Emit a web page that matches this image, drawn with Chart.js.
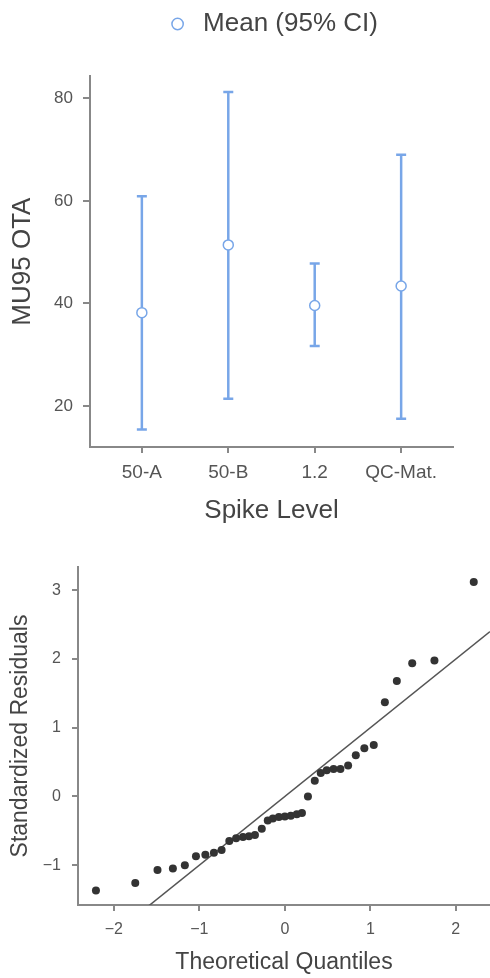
<!DOCTYPE html>
<html><head><meta charset="utf-8">
<script src="https://cdn.jsdelivr.net/npm/chart.js@4"></script>
<style>
html,body{margin:0;padding:0;background:#fff;overflow:hidden;}
#top{position:absolute;left:0;top:0;width:490px;height:540px;}
#bot{position:absolute;left:0;top:540px;width:490px;height:438px;}
</style></head><body>
<div id="top"><canvas id="c1"></canvas></div>
<div id="bot"><canvas id="c2"></canvas></div>
<script>
// ---- Top chart data ----
const categories = ['50-A', '50-B', '1.2', 'QC-Mat.'];
const meanValues = [38.2, 51.4, 39.6, 43.4];
const ciLower = [15.4, 21.4, 31.7, 17.5];
const ciUpper = [60.9, 81.2, 47.8, 69.0];
const topYTicks = [20, 40, 60, 80];

// ---- Q-Q plot data ----
const theoreticalQuantiles = [-2.21, -1.75, -1.49, -1.31, -1.17, -1.04, -0.93, -0.83, -0.74, -0.65,
  -0.57, -0.49, -0.42, -0.35, -0.27, -0.20, -0.14, -0.07, 0.00, 0.07,
  0.14, 0.20, 0.27, 0.35, 0.42, 0.49, 0.57, 0.65, 0.74, 0.83,
  0.93, 1.04, 1.17, 1.31, 1.49, 1.75, 2.21];
const standardizedResiduals = [-1.37, -1.26, -1.07, -1.05, -1.00, -0.87, -0.85, -0.82, -0.78, -0.65,
  -0.61, -0.59, -0.58, -0.56, -0.47, -0.35, -0.32, -0.30, -0.29, -0.28,
  -0.26, -0.24, 0.00, 0.23, 0.34, 0.38, 0.40, 0.40, 0.45, 0.60,
  0.70, 0.75, 1.37, 1.68, 1.94, 1.98, 3.12];
const qqXTicks = [-2, -1, 0, 1, 2];
const qqYTicks = [-1, 0, 1, 2, 3];
const refLineX = [-2.4, 2.4];

Chart.defaults.font.family = "'Liberation Sans', Arial, sans-serif";
Chart.defaults.color = '#555';

const blue = '#78a6e8';
const axisColor = '#888';

// error bar segments built from the CI arrays
const errData = [];
categories.forEach((c, i) => {
  errData.push({x: i, y: ciLower[i]}, {x: i, y: ciUpper[i]}, {x: i, y: null});
});
const meanData = categories.map((c, i) => ({x: i, y: meanValues[i]}));

new Chart(document.getElementById('c1'), {
  type: 'scatter',
  data: {
    datasets: [
      {
        label: 'Mean (95% CI)',
        data: meanData,
        pointStyle: 'circle',
        pointRadius: 5,
        pointBorderWidth: 1.5,
        pointBackgroundColor: '#fff',
        pointBorderColor: blue,
        backgroundColor: '#fff',
        borderColor: blue,
        order: 0
      },
      {
        label: 'CI',
        type: 'line',
        data: errData,
        showLine: true,
        spanGaps: false,
        borderColor: blue,
        borderWidth: 2.5,
        pointStyle: 'line',
        pointRadius: 5,
        pointBorderWidth: 2.5,
        pointBorderColor: blue,
        pointBackgroundColor: blue,
        order: 1
      }
    ]
  },
  options: {
    responsive: true,
    maintainAspectRatio: false,
    animation: false,
    layout: {autoPadding: false, padding: {left: 0, right: 37, top: 0, bottom: 0}},
    plugins: {
      tooltip: {enabled: false},
      legend: {
        display: true,
        position: 'top',
        fullSize: false,
        weight: 3000,
        labels: {
          filter: (item) => item.datasetIndex === 0,
          usePointStyle: true,
          boxWidth: 25,
          boxHeight: 8,
          padding: 11,
          color: '#444',
          font: {size: 26}
        }
      },
      title: {
        display: true,
        text: '',
        fullSize: false,
        weight: 2000,
        font: {size: 1},
        padding: {top: 0, bottom: 28}
      }
    },
    scales: {
      x: {
        type: 'linear',
        min: -0.6,
        max: 3.6,
        afterBuildTicks: (s) => { s.ticks = categories.map((c, i) => ({value: i})); },
        afterFit: (s) => { s.height = 93; },
        ticks: {
          callback: (v) => categories[v],
          font: {size: 19},
          color: '#555',
          padding: 8,
          autoSkip: false,
          maxRotation: 0
        },
        grid: {display: true, drawOnChartArea: false, drawTicks: true, tickLength: 6, color: axisColor, lineWidth: 2},
        border: {display: true, color: axisColor, width: 2},
        title: {display: true, text: 'Spike Level', color: '#444', font: {size: 26}, padding: {top: 0, bottom: 14}}
      },
      y: {
        type: 'linear',
        min: 12,
        max: 84.3,
        afterBuildTicks: (s) => { s.ticks = topYTicks.map(v => ({value: v})); },
        afterFit: (s) => { s.width = 90; },
        ticks: {font: {size: 17}, color: '#555', padding: 10},
        grid: {display: true, drawOnChartArea: false, drawTicks: true, tickLength: 7, color: axisColor, lineWidth: 2},
        border: {display: true, color: axisColor, width: 2},
        title: {display: true, text: 'MU95 OTA', color: '#444', font: {size: 26}, padding: {top: 7, bottom: 0}}
      }
    }
  }
});

// ---- Q-Q plot ----
const qqPoints = theoreticalQuantiles.map((q, i) => ({x: q, y: standardizedResiduals[i]}));
const refLine = refLineX.map(v => ({x: v, y: v}));

new Chart(document.getElementById('c2'), {
  type: 'scatter',
  data: {
    datasets: [
      {
        label: 'Residuals',
        data: qqPoints,
        pointRadius: 4,
        pointBorderWidth: 0,
        pointBackgroundColor: '#333',
        backgroundColor: '#333',
        borderColor: '#333',
        order: 0
      },
      {
        label: 'Reference',
        type: 'line',
        data: refLine,
        showLine: true,
        borderColor: '#555',
        borderWidth: 1.5,
        pointRadius: 0,
        order: 1
      }
    ]
  },
  options: {
    responsive: true,
    maintainAspectRatio: false,
    animation: false,
    layout: {autoPadding: false, padding: {left: 0, right: 0, top: 27, bottom: 0}},
    plugins: {legend: {display: false}, tooltip: {enabled: false}},
    scales: {
      x: {
        type: 'linear',
        min: -2.42,
        max: 2.4,
        afterBuildTicks: (s) => { s.ticks = qqXTicks.map(v => ({value: v})); },
        afterFit: (s) => { s.height = 73; },
        ticks: {
          callback: (v) => (v < 0 ? '\u2212' + Math.abs(v) : String(v)),
          font: {size: 16},
          color: '#555',
          padding: 9,
          maxRotation: 0
        },
        grid: {display: true, drawOnChartArea: false, drawTicks: true, tickLength: 6, color: axisColor, lineWidth: 2},
        border: {display: true, color: axisColor, width: 2},
        title: {display: true, text: 'Theoretical Quantiles', color: '#444', font: {size: 23}, padding: {top: 0, bottom: 2}}
      },
      y: {
        type: 'linear',
        min: -1.58,
        max: 3.34,
        afterBuildTicks: (s) => { s.ticks = qqYTicks.map(v => ({value: v})); },
        afterFit: (s) => { s.width = 78; },
        ticks: {
          callback: (v) => (v < 0 ? '\u2212' + Math.abs(v) : String(v)),
          font: {size: 16},
          color: '#555',
          padding: 11
        },
        grid: {display: true, drawOnChartArea: false, drawTicks: true, tickLength: 6, color: axisColor, lineWidth: 2},
        border: {display: true, color: axisColor, width: 2},
        title: {display: true, text: 'Standardized Residuals', color: '#444', font: {size: 23}, padding: {top: 7, bottom: 0}}
      }
    }
  }
});
</script>
</body></html>
